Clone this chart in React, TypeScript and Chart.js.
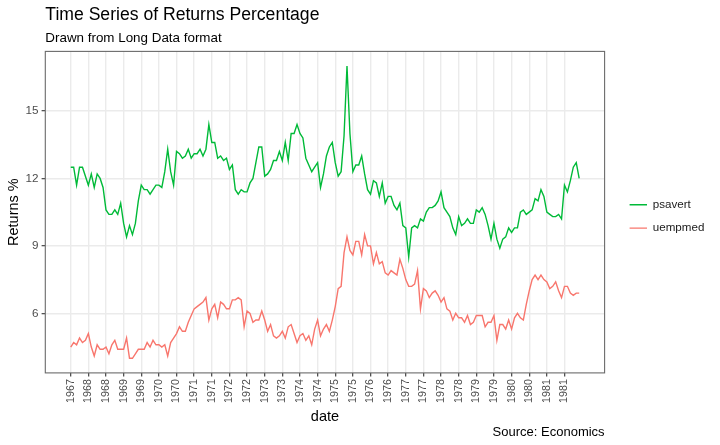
import React, { useEffect, useRef } from "react";
import { Chart, registerables } from "chart.js";

Chart.register(...registerables);

const FONT = '"Liberation Sans", Arial, Helvetica, sans-serif';

// Monthly values, 1967-07 .. 1981-12
const psavert = [
  12.5, 12.5, 11.7, 12.5, 12.5, 12.1,
  11.7, 12.2, 11.6, 12.2, 12.0, 11.6, 10.6, 10.4, 10.4, 10.6, 10.4, 10.9,
  10.0, 9.4, 9.9, 9.5, 10.0, 11.0, 11.7, 11.5, 11.5, 11.3, 11.5, 11.7,
  11.7, 11.6, 12.3, 13.3, 12.3, 11.7, 13.2, 13.1, 12.9, 13.0, 13.3, 12.9,
  13.1, 13.1, 13.3, 13.0, 13.3, 14.4, 13.6, 13.6, 12.9, 13.0, 12.8, 12.9,
  12.4, 12.6, 11.5, 11.3, 11.5, 11.4, 11.4, 11.8, 12.0, 12.7, 13.4, 13.4,
  12.1, 12.2, 12.4, 12.8, 12.8, 13.2, 12.8, 13.6, 12.8, 14.0, 14.0, 14.4,
  14.0, 13.8, 12.9, 12.6, 12.3, 12.5, 12.7, 11.6, 12.2, 13.0, 13.4, 13.6,
  12.7, 12.1, 12.3, 13.9, 17.0, 14.0, 12.3, 12.6, 12.6, 13.0, 12.2, 11.5,
  11.3, 11.9, 11.8, 11.2, 11.8, 10.9, 11.2, 11.2, 10.8, 10.6, 10.9, 9.9,
  9.8, 8.5, 9.8, 9.9, 9.8, 10.2, 10.1, 10.5, 10.7, 10.7, 10.8, 11.0,
  11.4, 10.7, 10.5, 10.3, 9.8, 9.5, 10.3, 9.9, 10.0, 10.2, 10.0, 10.0,
  10.6, 10.5, 10.7, 10.4, 9.9, 9.3, 10.0, 9.3, 8.9, 9.3, 9.4, 9.8,
  9.6, 9.8, 9.8, 10.5, 10.6, 10.4, 10.5, 10.6, 11.1, 11.0, 11.5, 11.2,
  10.5, 10.4, 10.3, 10.3, 10.4, 10.2, 11.7, 11.4, 11.9, 12.5, 12.7, 12.0,
];

const uempmed = [
  4.5, 4.7, 4.6, 4.9, 4.7, 4.8,
  5.1, 4.5, 4.1, 4.6, 4.4, 4.4, 4.5, 4.2, 4.6, 4.8, 4.4, 4.4,
  4.4, 4.9, 4.0, 4.0, 4.2, 4.4, 4.4, 4.4, 4.7, 4.5, 4.8, 4.6,
  4.6, 4.5, 4.6, 4.1, 4.7, 4.9, 5.1, 5.4, 5.2, 5.2, 5.6, 5.9,
  6.2, 6.3, 6.4, 6.5, 6.7, 5.7, 6.2, 6.4, 5.8, 6.5, 6.4, 6.2,
  6.2, 6.6, 6.6, 6.7, 6.6, 5.4, 6.1, 6.0, 5.6, 5.7, 5.7, 6.1,
  5.7, 5.2, 5.5, 5.0, 4.9, 5.0, 5.2, 4.9, 5.4, 5.5, 5.1, 4.7,
  5.0, 5.1, 4.8, 5.0, 4.6, 5.3, 5.7, 5.0, 5.3, 5.5, 5.2, 5.7,
  6.3, 7.1, 7.2, 8.7, 9.4, 8.8, 8.6, 9.2, 9.2, 8.6, 9.5, 9.0,
  9.0, 8.2, 8.7, 8.2, 8.3, 7.8, 7.7, 7.9, 7.8, 7.7, 8.4, 8.0,
  7.5, 7.2, 7.2, 7.3, 7.9, 6.2, 7.1, 7.0, 6.7, 6.9, 7.0, 6.8,
  6.5, 6.7, 6.2, 6.1, 5.7, 6.0, 5.8, 5.8, 5.6, 5.9, 5.5, 5.6,
  5.9, 5.9, 5.9, 5.4, 5.6, 5.6, 5.9, 4.8, 5.5, 5.5, 5.3, 5.7,
  5.3, 5.8, 6.0, 5.8, 5.7, 6.4, 7.0, 7.5, 7.7, 7.5, 7.7, 7.5,
  7.4, 7.1, 7.2, 7.4, 7.0, 6.7, 7.2, 7.2, 6.9, 6.8, 6.9, 6.9,
];

// Category (month) labels for each value, starting 1967-07
const startYear = 1967;
const startMonthIndex = 6; // July
const months: string[] = psavert.map((_, i) => {
  const m = startMonthIndex + i;
  return `${startYear + Math.floor(m / 12)}-${String((m % 12) + 1).padStart(2, "0")}`;
});

const tickDates = [
  "1967-07", "1968-01", "1968-07", "1969-01", "1969-07", "1970-01", "1970-07",
  "1971-01", "1971-07", "1972-01", "1972-07", "1973-01", "1973-07", "1974-01",
  "1974-07", "1975-01", "1975-07", "1976-01", "1976-07", "1977-01", "1977-07",
  "1978-01", "1978-07", "1979-01", "1979-07", "1980-01", "1980-07", "1981-01",
  "1981-07",
];
const tickLabels = [
  "1967", "1968", "1968", "1969", "1969", "1970", "1970",
  "1971", "1971", "1972", "1972", "1973", "1973", "1974",
  "1974", "1975", "1975", "1976", "1976", "1977", "1977",
  "1978", "1978", "1979", "1979", "1980", "1980", "1981",
  "1981",
];
const yTicks = [6, 9, 12, 15];

const seriesNames = ["psavert", "uempmed"];
const seriesColors = ["#00BA38", "#F8766D"];

const titleText = "Time Series of Returns Percentage";
const subtitleText = "Drawn from Long Data format";
const captionText = "Source: Economics";

const PANEL_RIGHT = 604.6;

const panelBorder = {
  id: "panelBorder",
  afterDatasetsDraw(chart: any) {
    const { ctx, chartArea } = chart;
    ctx.save();
    ctx.strokeStyle = "#6a6a6a";
    ctx.lineWidth = 1.1;
    ctx.strokeRect(chartArea.left, chartArea.top, chartArea.right - chartArea.left, chartArea.bottom - chartArea.top);
    ctx.restore();
  },
};

const captionPlugin = {
  id: "caption",
  afterDraw(chart: any) {
    const { ctx, chartArea } = chart;
    ctx.save();
    ctx.font = `13px ${FONT}`;
    ctx.fillStyle = "#000000";
    ctx.textAlign = "right";
    ctx.textBaseline = "middle";
    ctx.fillText(captionText, chartArea.right, chart.height - 12.5);
    ctx.restore();
  },
};

export default function App() {
  const ref = useRef<HTMLCanvasElement>(null);

  useEffect(() => {
    document.body.style.margin = "0";
    const canvas = ref.current!;
    const chart = new Chart(canvas, {
      type: "line",
      data: {
        datasets: [
          {
            label: seriesNames[0],
            data: psavert.map((v, i) => ({ x: i, y: v })),
            borderColor: seriesColors[0],
            backgroundColor: seriesColors[0],
            borderWidth: 1.4,
            pointRadius: 0,
            tension: 0,
            fill: false,
          },
          {
            label: seriesNames[1],
            data: uempmed.map((v, i) => ({ x: i, y: v })),
            borderColor: seriesColors[1],
            backgroundColor: seriesColors[1],
            borderWidth: 1.4,
            pointRadius: 0,
            tension: 0,
            fill: false,
          },
        ],
      },
      options: {
        responsive: false,
        animation: false,
        devicePixelRatio: 1,
        layout: { padding: { left: 0, right: 0, top: 0, bottom: 19.1 } },
        scales: {
          x: {
            type: "linear",
            position: "bottom",
            min: -8.65,
            max: 181.65,
            afterBuildTicks: (s: any) => {
              s.ticks = tickDates.map((d) => ({ value: months.indexOf(d) }));
            },
            afterFit: (s: any) => {
              s.height = 53;
            },
            grid: {
              color: "#EBEBEB",
              lineWidth: 1.4,
              drawTicks: true,
              tickLength: 3.7,
              tickColor: "#333333",
              tickWidth: 1.1,
            },
            border: { display: false },
            ticks: {
              autoSkip: false,
              minRotation: 90,
              maxRotation: 90,
              padding: 2.5,
              color: "#4D4D4D",
              font: { family: FONT, size: 10.7 },
              callback: (_v: any, idx: number) => tickLabels[idx],
            },
            title: {
              display: true,
              text: "date",
              color: "#000000",
              font: { family: FONT, size: 14.5 },
              padding: { top: 0, bottom: 0 },
            },
          },
          y: {
            type: "linear",
            position: "left",
            min: 3.35,
            max: 17.65,
            afterBuildTicks: (s: any) => {
              s.ticks = yTicks.map((v) => ({ value: v }));
            },
            afterFit: (s: any) => {
              s.width = 45.3;
            },
            grid: {
              color: "#EBEBEB",
              lineWidth: 1.4,
              drawTicks: true,
              tickLength: 3.7,
              tickColor: "#333333",
              tickWidth: 1.1,
            },
            border: { display: false },
            ticks: {
              padding: 3,
              color: "#4D4D4D",
              font: { family: FONT, size: 11.7 },
              callback: (v: any) => String(v),
            },
            title: {
              display: true,
              text: "Returns %",
              color: "#000000",
              font: { family: FONT, size: 14.5 },
              padding: { top: 5.3, bottom: 0 },
            },
          },
          spacer: {
            type: "linear",
            position: "right",
            display: true,
            grid: { display: false, drawTicks: false },
            ticks: { display: false },
            border: { display: false },
            afterFit: (s: any) => {
              s.width = 13.3;
            },
          },
        },
        plugins: {
          legend: {
            position: "right",
            title: { display: true, text: " ", padding: 0, font: { size: 7, lineHeight: 1 } },
            labels: {
              usePointStyle: true,
              pointStyle: "line",
              pointStyleWidth: 17.4,
              padding: 11.7,
              color: "#1A1A1A",
              font: { family: FONT, size: 11.6 },
            },
          },
          title: {
            display: true,
            text: titleText,
            align: "start",
            fullSize: false,
            color: "#000000",
            font: { family: FONT, size: 17.6, weight: "normal", lineHeight: 1.2 },
            padding: { top: 5, bottom: 2 },
          },
          subtitle: {
            display: true,
            text: subtitleText,
            align: "start",
            fullSize: false,
            color: "#000000",
            font: { family: FONT, size: 13.4, weight: "normal", lineHeight: 1.2 },
            padding: { top: 1.84, bottom: 5.36 },
          },
          tooltip: { enabled: false },
        },
      } as any,
      plugins: [panelBorder, captionPlugin],
    });

    // Pin the panel's right edge: the legend width depends on text metrics.
    const diff = chart.chartArea.right - PANEL_RIGHT;
    if (Math.abs(diff) > 0.05) {
      const pad = (chart.options as any).layout.padding;
      (chart.options as any).layout.padding = {
        left: 0,
        top: 0,
        bottom: 19.1,
        right: Math.max(0, (pad && pad.right) || 0) + diff,
      };
      chart.update();
    }

    return () => chart.destroy();
  }, []);

  return (
    <div style={{ width: 720, height: 445, background: "#ffffff" }}>
      <canvas ref={ref} width={720} height={445} style={{ display: "block", width: 720, height: 445 }} />
    </div>
  );
}
